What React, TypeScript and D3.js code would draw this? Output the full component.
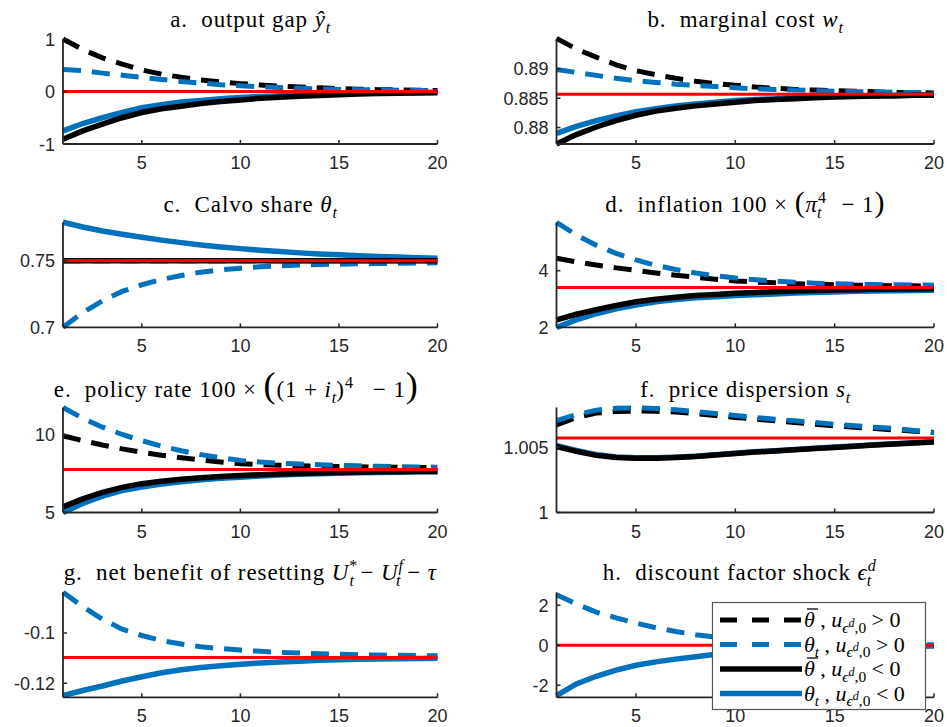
import React from "react";
import * as d3 from "d3";

// quarters after the shock
const periods = [1, 2, 3, 4, 5, 6, 7, 8, 9, 10, 11, 12, 13, 14, 15, 16, 17, 18, 19, 20];

// a. output gap
const gapBarPos = [1.0, 0.8, 0.64, 0.52, 0.41, 0.33, 0.27, 0.22, 0.18, 0.15, 0.125, 0.1, 0.085, 0.07, 0.055, 0.045, 0.035, 0.03, 0.025, 0.02];
const gapThPos = [0.42, 0.4, 0.35, 0.31, 0.27, 0.23, 0.19, 0.16, 0.13, 0.11, 0.09, 0.075, 0.06, 0.05, 0.04, 0.035, 0.03, 0.025, 0.02, 0.015];
const gapBarNeg = [-0.91, -0.75, -0.62, -0.5, -0.4, -0.33, -0.28, -0.23, -0.19, -0.16, -0.13, -0.11, -0.09, -0.075, -0.06, -0.05, -0.04, -0.035, -0.03, -0.025];
const gapThNeg = [-0.75, -0.61, -0.5, -0.4, -0.31, -0.25, -0.2, -0.17, -0.14, -0.115, -0.095, -0.08, -0.065, -0.055, -0.045, -0.035, -0.03, -0.025, -0.02, -0.015];

// b. marginal cost
const mcBarPos = [0.8952, 0.8934, 0.892, 0.8907, 0.8897, 0.889, 0.8884, 0.8879, 0.8875, 0.8872, 0.8869, 0.8867, 0.8865, 0.8864, 0.8863, 0.8862, 0.8861, 0.886, 0.886, 0.8859];
const mcThPos = [0.8899, 0.8894, 0.8889, 0.8884, 0.888, 0.8877, 0.8874, 0.8872, 0.887, 0.8868, 0.8866, 0.8865, 0.8864, 0.8863, 0.8862, 0.8861, 0.8861, 0.886, 0.886, 0.8859];
const mcBarNeg = [0.8772, 0.8788, 0.8801, 0.8812, 0.8821, 0.8828, 0.8833, 0.8837, 0.884, 0.8843, 0.8846, 0.8848, 0.8849, 0.8851, 0.8852, 0.8853, 0.8854, 0.8854, 0.8855, 0.8855];
const mcThNeg = [0.879, 0.8802, 0.8812, 0.882, 0.8827, 0.8832, 0.8837, 0.884, 0.8843, 0.8846, 0.8848, 0.8849, 0.8851, 0.8852, 0.8853, 0.8854, 0.8854, 0.8855, 0.8855, 0.8856];

// c. Calvo share
const cvBarPos = [0.75, 0.75, 0.75, 0.75, 0.75, 0.75, 0.75, 0.75, 0.75, 0.75, 0.75, 0.75, 0.75, 0.75, 0.75, 0.75, 0.75, 0.75, 0.75, 0.75];
const cvThPos = [0.7, 0.711, 0.72, 0.727, 0.732, 0.736, 0.739, 0.7415, 0.7432, 0.7445, 0.7455, 0.7462, 0.7468, 0.7472, 0.7475, 0.7478, 0.748, 0.7482, 0.7484, 0.7485];
const cvBarNeg = [0.75, 0.75, 0.75, 0.75, 0.75, 0.75, 0.75, 0.75, 0.75, 0.75, 0.75, 0.75, 0.75, 0.75, 0.75, 0.75, 0.75, 0.75, 0.75, 0.75];
const cvThNeg = [0.779, 0.7755, 0.7725, 0.77, 0.7677, 0.7656, 0.7637, 0.762, 0.7605, 0.7592, 0.758, 0.757, 0.756, 0.7552, 0.7545, 0.7539, 0.7533, 0.7528, 0.7524, 0.752];

// d. inflation
const infBarPos = [4.44, 4.31, 4.2, 4.1, 4.01, 3.92, 3.84, 3.77, 3.7, 3.64, 3.6, 3.57, 3.54, 3.52, 3.5, 3.49, 3.48, 3.47, 3.465, 3.46];
const infThPos = [5.71, 5.26, 4.9, 4.61, 4.38, 4.19, 4.04, 3.92, 3.82, 3.74, 3.68, 3.63, 3.59, 3.56, 3.54, 3.52, 3.51, 3.5, 3.495, 3.49];
const infBarNeg = [2.26, 2.46, 2.62, 2.77, 2.9, 2.99, 3.06, 3.12, 3.16, 3.2, 3.23, 3.26, 3.28, 3.3, 3.32, 3.33, 3.34, 3.35, 3.355, 3.36];
const infThNeg = [2.0, 2.26, 2.48, 2.65, 2.79, 2.9, 2.98, 3.04, 3.08, 3.12, 3.15, 3.18, 3.21, 3.23, 3.25, 3.27, 3.28, 3.29, 3.3, 3.31];

// e. policy rate
const rateBarPos = [9.95, 9.63, 9.35, 9.1, 8.88, 8.69, 8.53, 8.39, 8.26, 8.15, 8.09, 8.05, 8.02, 7.99, 7.97, 7.95, 7.93, 7.91, 7.9, 7.89];
const rateThPos = [11.77, 11.08, 10.5, 10.03, 9.63, 9.28, 8.98, 8.73, 8.53, 8.36, 8.25, 8.18, 8.12, 8.08, 8.04, 8.01, 7.98, 7.96, 7.94, 7.92];
const rateBarNeg = [5.36, 5.88, 6.3, 6.62, 6.86, 7.02, 7.14, 7.24, 7.32, 7.39, 7.44, 7.48, 7.52, 7.55, 7.58, 7.6, 7.62, 7.63, 7.64, 7.65];
const rateThNeg = [5.0, 5.58, 6.05, 6.41, 6.64, 6.83, 6.98, 7.11, 7.21, 7.28, 7.35, 7.41, 7.46, 7.5, 7.53, 7.56, 7.58, 7.6, 7.62, 7.63];

// f. price dispersion
const dispBarPos = [1.0067, 1.00725, 1.0076, 1.00773, 1.00776, 1.00774, 1.00768, 1.00757, 1.00742, 1.00727, 1.00714, 1.00701, 1.00688, 1.00675, 1.00663, 1.00652, 1.00642, 1.00632, 1.00622, 1.00612];
const dispThPos = [1.00703, 1.00748, 1.00783, 1.00798, 1.008, 1.00796, 1.00786, 1.00772, 1.00757, 1.00742, 1.00727, 1.00714, 1.00701, 1.00688, 1.00675, 1.00663, 1.00652, 1.00642, 1.00627, 1.00612];
const dispBarNeg = [1.00505, 1.00468, 1.00437, 1.0042, 1.00414, 1.00415, 1.0042, 1.00428, 1.0044, 1.00452, 1.00462, 1.00471, 1.0048, 1.00489, 1.00498, 1.00507, 1.00516, 1.00524, 1.00532, 1.0054];
const dispThNeg = [1.00512, 1.00474, 1.00443, 1.00425, 1.00418, 1.00418, 1.00423, 1.00431, 1.00442, 1.00454, 1.00464, 1.00473, 1.00482, 1.00491, 1.005, 1.00509, 1.00518, 1.00526, 1.00534, 1.00542];

// g. net benefit of resetting (only defined for the state-dependent case)
const gainThPos = [-0.0838, -0.0895, -0.0945, -0.0985, -0.101, -0.103, -0.1044, -0.1055, -0.1062, -0.1068, -0.1073, -0.1077, -0.108, -0.1083, -0.1085, -0.1087, -0.1088, -0.1089, -0.109, -0.1091];
const gainThNeg = [-0.1249, -0.1229, -0.1211, -0.1191, -0.1174, -0.1158, -0.1146, -0.1137, -0.113, -0.1124, -0.1119, -0.1115, -0.1112, -0.1109, -0.1107, -0.1105, -0.1104, -0.1103, -0.1102, -0.1101];

// h. discount factor shock
const shockThPos = [2.53, 2.07, 1.66, 1.37, 1.11, 0.88, 0.69, 0.53, 0.41, 0.32, 0.25, 0.19, 0.15, 0.12, 0.09, 0.07, 0.055, 0.045, 0.035, 0.03];
const shockThNeg = [-2.52, -1.93, -1.55, -1.24, -1.0, -0.83, -0.69, -0.57, -0.45, -0.36, -0.29, -0.23, -0.18, -0.14, -0.11, -0.09, -0.07, -0.055, -0.045, -0.035];

// steady states (red lines)
const steadyStates = [0, 0.8857, 0.75, 3.41, 7.78, 1.00569, -0.1098, 0];
const yDomains = [[-1, 1], [0.8772, 0.8951], [0.7, 0.779], [2, 5.71], [5, 11.77], [1, 1.00803], [-0.1256, -0.0838], [-2.6, 2.65]];
const yTicks = [[-1, 0, 1], [0.88, 0.885, 0.89], [0.7, 0.75], [2, 4], [5, 10], [1, 1.005], [-0.12, -0.1], [-2, 0, 2]];
const xTicks = [5, 10, 15, 20];

const BLUE = "#0072BD";
const INK = "#262626";
const SERIF = "'Liberation Serif', 'DejaVu Serif', serif";
const SANS = "'Liberation Sans', Arial, sans-serif";

type Seg = { t: string; it?: boolean; lvl?: number; dx?: number; size?: number };

const titles: Seg[][] = [
  [{ t: "a.  output gap " }, { t: "ŷ", it: true }, { t: "t", it: true, lvl: -1 }],
  [{ t: "b.  marginal cost " }, { t: "w", it: true }, { t: "t", it: true, lvl: -1 }],
  [{ t: "c.  Calvo share " }, { t: "θ", it: true }, { t: "t", it: true, lvl: -1 }],
  [
    { t: "d.  inflation 100 × " }, { t: "(", size: 30 }, { t: "π", it: true }, { t: "4", lvl: 1 },
    { t: "t", it: true, lvl: -1, dx: -9 }, { t: "   − 1" }, { t: ")", size: 30 },
  ],
  [
    { t: "e.  policy rate 100 × " }, { t: "(", size: 36 }, { t: "(1 + " }, { t: "i", it: true },
    { t: "t", it: true, lvl: -1 }, { t: ")" }, { t: "4", lvl: 1 }, { t: "   − 1" }, { t: ")", size: 36 },
  ],
  [{ t: "f.  price dispersion " }, { t: "s", it: true }, { t: "t", it: true, lvl: -1 }],
  [
    { t: "g.  net benefit of resetting " }, { t: "U", it: true }, { t: "*", lvl: 1 }, { t: "t", it: true, lvl: -1, dx: -8 },
    { t: " − " }, { t: "U", it: true }, { t: "f", it: true, lvl: 1 }, { t: "t", it: true, lvl: -1, dx: -7 },
    { t: " − " }, { t: "τ", it: true },
  ],
  [{ t: "h.  discount factor shock " }, { t: "ϵ", it: true }, { t: "d", it: true, lvl: 1 }, { t: "t", it: true, lvl: -1, dx: -9 }],
];
// small horizontal nudges of the titles (panel e sits left of centre in the original)
const titleShift = [0, 0, 0, 0, -14, 0, 0, -6];

const uTail: Seg[] = [
  { t: " , " }, { t: "u", it: true }, { t: "ϵ", it: true, lvl: -1 }, { t: "d", it: true, lvl: -2 }, { t: ",0", lvl: -1 },
];
const legendItems: { label: Seg[]; color: string; dash: boolean; bar: boolean }[] = [
  { label: [{ t: "θ", it: true }, ...uTail, { t: " > 0" }], color: "#000", dash: true, bar: true },
  { label: [{ t: "θ", it: true }, { t: "t", it: true, lvl: -1 }, ...uTail, { t: " > 0" }], color: BLUE, dash: true, bar: false },
  { label: [{ t: "θ", it: true }, ...uTail, { t: " < 0" }], color: "#000", dash: false, bar: true },
  { label: [{ t: "θ", it: true }, { t: "t", it: true, lvl: -1 }, ...uTail, { t: " < 0" }], color: BLUE, dash: false, bar: false },
];

const series: (number[] | null)[][] = [
  [gapBarPos, gapThPos, gapBarNeg, gapThNeg],
  [mcBarPos, mcThPos, mcBarNeg, mcThNeg],
  [cvBarPos, cvThPos, cvBarNeg, cvThNeg],
  [infBarPos, infThPos, infBarNeg, infThNeg],
  [rateBarPos, rateThPos, rateBarNeg, rateThNeg],
  [dispBarPos, dispThPos, dispBarNeg, dispThNeg],
  [null, gainThPos, null, gainThNeg],
  [null, shockThPos, null, shockThNeg],
];

const colX = [[63, 437.5], [556.5, 934]];
const rowTop = [39, 222.3, 407.5, 592.3];
const PH = 105;
const titleBase = [27, 212, 397, 580];

function MathText({ segs, fs, ls = 0 }: { segs: Seg[]; fs: number; ls?: number }) {
  const off: Record<number, number> = { 0: 0, 1: -0.4 * fs, [-1]: 0.25 * fs, [-2]: -0.02 * fs };
  const scale: Record<number, number> = { 0: 1, 1: 0.7, [-1]: 0.7, [-2]: 0.55 };
  let prev = 0;
  return (
    <>
      {segs.map((s, i) => {
        const lvl = s.lvl ?? 0;
        const dy = off[lvl] - prev;
        prev = off[lvl];
        return (
          <tspan
            key={i}
            dy={dy || undefined}
            dx={s.dx}
            fontFamily={SERIF}
            fontStyle={s.it ? "italic" : "normal"}
            fontSize={s.size ?? fs * scale[lvl]}
            letterSpacing={lvl === 0 ? ls : 0}
          >
            {s.t}
          </tspan>
        );
      })}
    </>
  );
}

function Panel({ k }: { k: number }) {
  const [x0, x1] = colX[k % 2];
  const top = rowTop[Math.floor(k / 2)];
  const x = d3.scaleLinear().domain([1, 20]).range([x0, x1]);
  const y = d3.scaleLinear().domain(yDomains[k]).range([top + PH, top]);
  const line = d3.line<number>().x((_, i) => x(periods[i])).y((d) => y(d));
  const [bp, tp, bn, tn] = series[k];
  const styles = [
    { d: bp, c: "#000", dash: true, w: 5 },
    { d: tp, c: BLUE, dash: true, w: 5 },
    { d: tn, c: BLUE, dash: false, w: 5.5 },
    { d: bn, c: "#000", dash: false, w: 5.5 },
  ];
  return (
    <g>
      {styles.map((s, i) =>
        s.d ? (
          <path
            key={i}
            d={line(s.d) || ""}
            fill="none"
            stroke={s.c}
            strokeWidth={s.w}
            strokeDasharray={s.dash ? "18,11" : undefined}
          />
        ) : null
      )}
      <line x1={x(1)} x2={x(20)} y1={y(steadyStates[k])} y2={y(steadyStates[k])} stroke="#FF0000" strokeWidth={3} />
      {/* axes */}
      <line x1={x0} x2={x0} y1={top} y2={top + PH} stroke={INK} strokeWidth={1.8} />
      <line x1={x0} x2={x1} y1={top + PH} y2={top + PH} stroke={INK} strokeWidth={1.8} />
      {xTicks.map((t) => (
        <g key={t}>
          <line x1={x(t)} x2={x(t)} y1={top + PH} y2={top + PH - 4} stroke={INK} strokeWidth={1.5} />
          <text x={x(t)} y={top + PH + 25} textAnchor="middle" fontFamily={SANS} fontSize={18} fill={INK}>
            {t}
          </text>
        </g>
      ))}
      {yTicks[k].map((t) => (
        <g key={t}>
          <line x1={x0} x2={x0 + 4} y1={y(t)} y2={y(t)} stroke={INK} strokeWidth={1.5} />
          <text x={x0 - 8} y={y(t) + 6.5} textAnchor="end" fontFamily={SANS} fontSize={18} fill={INK}>
            {String(t)}
          </text>
        </g>
      ))}
      <text
        x={(x0 + x1) / 2 + titleShift[k]}
        y={titleBase[Math.floor(k / 2)]}
        textAnchor="middle"
        fontFamily={SERIF}
        fontSize={23}
        fill="#000"
        style={{ whiteSpace: "pre" }}
      >
        <MathText segs={titles[k]} fs={23} ls={0.9} />
      </text>
    </g>
  );
}

function Legend() {
  const lx = 712.5, ly = 602.5, lw = 213, lh = 107;
  const rowsY = [620, 644.5, 669, 693.5];
  return (
    <g>
      <rect x={lx} y={ly} width={lw} height={lh} fill="#fff" stroke="#555" strokeWidth={1.2} />
      {legendItems.map((it, i) => (
        <g key={i}>
          <line
            x1={720}
            x2={802}
            y1={rowsY[i]}
            y2={rowsY[i]}
            stroke={it.color}
            strokeWidth={it.dash ? 5 : 5.5}
            strokeDasharray={it.dash ? "17,15" : undefined}
          />
          <text x={804} y={rowsY[i] + 7} fontFamily={SERIF} fontSize={22} style={{ whiteSpace: "pre" }}>
            <MathText segs={it.label} fs={22} />
          </text>
          {it.bar && <line x1={807} x2={818} y1={rowsY[i] - 11} y2={rowsY[i] - 11} stroke="#000" strokeWidth={1.3} />}
        </g>
      ))}
    </g>
  );
}

export default function App() {
  return (
    <svg
      width={947}
      height={727}
      style={{ position: "absolute", left: 0, top: 0, background: "#fff" }}
    >
      {[0, 1, 2, 3, 4, 5, 6, 7].map((k) => (
        <Panel key={k} k={k} />
      ))}
      <Legend />
    </svg>
  );
}
